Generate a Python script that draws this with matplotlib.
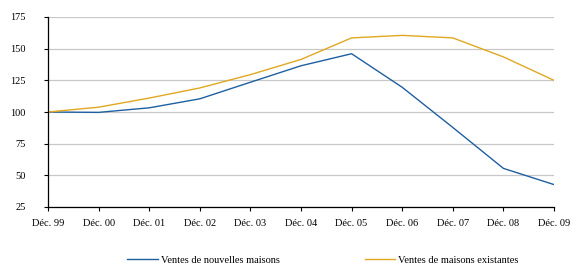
import matplotlib
matplotlib.use("Agg")
import matplotlib.pyplot as plt

plt.rcParams['font.family'] = ['Liberation Serif', 'DejaVu Serif']

categories = ["Déc. 99", "Déc. 00", "Déc. 01", "Déc. 02", "Déc. 03", "Déc. 04",
              "Déc. 05", "Déc. 06", "Déc. 07", "Déc. 08", "Déc. 09"]
new_homes = [100, 99.7, 103.3, 110.4, 123.5, 136.5, 146, 119.5, 87.8, 55.5, 42.7]
existing_homes = [100, 103.8, 111, 119, 129.5, 141.5, 158.5, 160.5, 158.5, 143.5, 125]
yticks = [25, 50, 75, 100, 125, 150, 175]

blue = "#1F5FA0"
gold = "#E0A820"

fig = plt.figure(figsize=(5.73, 2.66), dpi=100)
ax = fig.add_axes([48/573, 1-207/266, (554-48)/573, (207-17)/266])

x = list(range(len(categories)))
ax.plot(x, new_homes, color=blue, lw=1.0, label="Ventes de nouvelles maisons")
ax.plot(x, existing_homes, color=gold, lw=1.0, label="Ventes de maisons existantes")

ax.set_xlim(0, len(categories) - 1)
ax.set_ylim(25, 175)
ax.set_yticks(yticks)
ax.set_xticks(x)
ax.set_xticklabels(categories, fontsize=7.5)
ax.set_yticklabels([str(v) for v in yticks], fontsize=7.5)
ax.yaxis.grid(True, color="#C8C8C8", lw=0.9)
ax.set_axisbelow(True)
for s in ["top", "right"]:
    ax.spines[s].set_visible(False)
ax.spines["left"].set_linewidth(0.9)
ax.spines["bottom"].set_linewidth(0.9)
ax.tick_params(axis="both", length=3, width=0.8, colors="black")
ax.tick_params(axis="x", pad=6)
ax.tick_params(axis="y", pad=13)

fig.legend(loc="center", bbox_to_anchor=(323/573, 1-260/266), ncol=2,
           frameon=False, fontsize=7.5, handlelength=2.9, handletextpad=0.3,
           columnspacing=8.2)

fig.savefig("out.png", dpi=100)
